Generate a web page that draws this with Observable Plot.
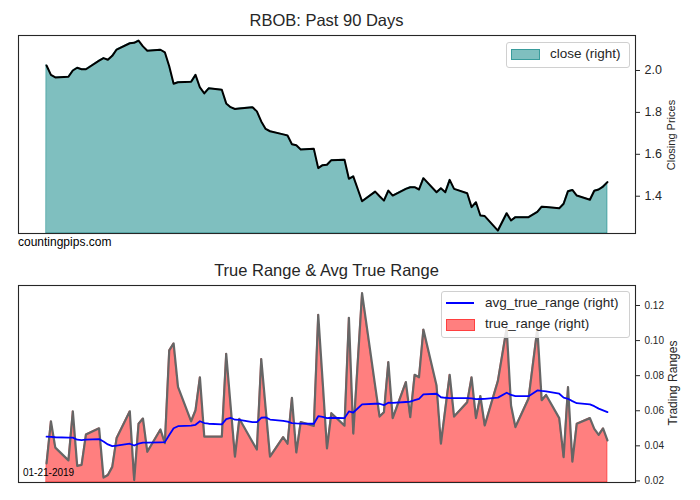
<!DOCTYPE html>
<html>
<head>
<meta charset="utf-8">
<script src="https://cdn.jsdelivr.net/npm/d3@7"></script>
<script src="https://cdn.jsdelivr.net/npm/@observablehq/plot@0.6"></script>
<style>
  body { margin: 0; background: #fff; }
  #wrap { position: relative; width: 700px; height: 500px; background: #fff;
          font-family: "Liberation Sans", Arial, sans-serif; color: #262626; overflow: hidden; }
  .abs { position: absolute; white-space: nowrap; }
  .title { left: 18px; width: 617px; text-align: center; font-size: 16.5px; line-height: 20px; }
  .ylab { transform: translate(-50%, -50%) rotate(-90deg); }
  .legend { border: 1px solid #d0d0d0; border-radius: 3px; background: rgba(255,255,255,0.85); }
</style>
</head>
<body>
<div id="wrap">
  <div id="topPanel" class="abs" style="left:0;top:0"></div>
  <div id="botPanel" class="abs" style="left:0;top:250px"></div>
</div>
<script>
// ---- data ----
const dates = [
  "2018-09-12","2018-09-13","2018-09-14",
  "2018-09-17","2018-09-18","2018-09-19","2018-09-20","2018-09-21",
  "2018-09-24","2018-09-25","2018-09-26","2018-09-27","2018-09-28",
  "2018-10-01","2018-10-02","2018-10-03","2018-10-04","2018-10-05",
  "2018-10-08","2018-10-09","2018-10-10","2018-10-11","2018-10-12",
  "2018-10-15","2018-10-16","2018-10-17","2018-10-18","2018-10-19",
  "2018-10-22","2018-10-23","2018-10-24","2018-10-25","2018-10-26",
  "2018-10-29","2018-10-30","2018-10-31","2018-11-01","2018-11-02",
  "2018-11-05","2018-11-06","2018-11-07","2018-11-08","2018-11-09",
  "2018-11-12","2018-11-13","2018-11-14","2018-11-15","2018-11-16",
  "2018-11-19","2018-11-20","2018-11-21","2018-11-23",
  "2018-11-26","2018-11-27","2018-11-28","2018-11-29","2018-11-30",
  "2018-12-03","2018-12-04","2018-12-05","2018-12-06","2018-12-07",
  "2018-12-10","2018-12-11","2018-12-12","2018-12-13","2018-12-14",
  "2018-12-17","2018-12-18","2018-12-19","2018-12-20","2018-12-21",
  "2018-12-24","2018-12-26","2018-12-27","2018-12-28",
  "2018-12-31","2019-01-02","2019-01-03","2019-01-04",
  "2019-01-07","2019-01-08","2019-01-09","2019-01-10","2019-01-11",
  "2019-01-14","2019-01-15","2019-01-16","2019-01-17","2019-01-18"
];
const close = [
  2.024, 1.979, 1.967,
  1.970, 2.000, 2.013, 2.006, 2.006,
  2.047, 2.059, 2.051, 2.070, 2.100,
  2.130, 2.132, 2.143, 2.115, 2.094,
  2.099, 2.087, 2.020, 1.937, 1.944,
  1.946, 1.979, 1.919, 1.891, 1.915,
  1.908, 1.843, 1.825, 1.816, 1.819,
  1.825, 1.805, 1.757, 1.721, 1.710,
  1.695, 1.690, 1.648, 1.643, 1.623,
  1.626, 1.534, 1.548, 1.550, 1.572,
  1.574, 1.483, 1.495, 1.376,
  1.422, 1.400, 1.379, 1.427, 1.403,
  1.435, 1.443, 1.443, 1.432, 1.486,
  1.419, 1.438, 1.419, 1.478, 1.435,
  1.414, 1.348, 1.371, 1.308, 1.305,
  1.236, 1.319, 1.284, 1.300,
  1.300, 1.325, 1.350, 1.348,
  1.342, 1.364, 1.424, 1.430, 1.403,
  1.383, 1.426, 1.432, 1.446, 1.467
];
const trueRange = [
  0.0300, 0.0540, 0.0390,
  0.0317, 0.0597, 0.0286, 0.0291, 0.0465,
  0.0500, 0.0219, 0.0234, 0.0280, 0.0445,
  0.0597, 0.0205, 0.0526, 0.0556, 0.0366,
  0.0493, 0.0415, 0.0944, 0.0984, 0.0736,
  0.0540, 0.0603, 0.0791, 0.0452, 0.0452,
  0.0452, 0.0925, 0.0630, 0.0338, 0.0554,
  0.0422, 0.0379, 0.0895, 0.0615, 0.0338,
  0.0450, 0.0412, 0.0673, 0.0362, 0.0535,
  0.0514, 0.1147, 0.0770, 0.0385, 0.0586,
  0.0515, 0.1130, 0.0470, 0.1270,
  0.0740, 0.0567, 0.0592, 0.0877, 0.0558,
  0.0763, 0.0564, 0.0805, 0.0791, 0.1063,
  0.0744, 0.0412, 0.0610, 0.0805, 0.0567,
  0.0649, 0.0791, 0.0558, 0.0684, 0.0516,
  0.0770, 0.1070, 0.0630, 0.0507,
  0.0670, 0.1067, 0.0660, 0.0690,
  0.0558, 0.0336, 0.0735, 0.0310, 0.0526,
  0.0558, 0.0497, 0.0463, 0.0500, 0.0431
];
const avgTrueRange = [
  0.0452, 0.0451, 0.0449,
  0.0447, 0.0447, 0.0435, 0.0433, 0.0435,
  0.0438, 0.0425, 0.0408, 0.0398, 0.0401,
  0.0412, 0.0402, 0.0413, 0.0418, 0.0418,
  0.0420, 0.0421, 0.0462, 0.0500, 0.0512,
  0.0515, 0.0520, 0.0540, 0.0530, 0.0526,
  0.0522, 0.0552, 0.0560, 0.0549, 0.0548,
  0.0535, 0.0535, 0.0560, 0.0562, 0.0550,
  0.0542, 0.0538, 0.0530, 0.0528, 0.0527,
  0.0526, 0.0569, 0.0565, 0.0558, 0.0560,
  0.0558, 0.0596, 0.0590, 0.0636,
  0.0640, 0.0640, 0.0632, 0.0646, 0.0645,
  0.0650, 0.0652, 0.0660, 0.0668, 0.0693,
  0.0697, 0.0677, 0.0674, 0.0672, 0.0672,
  0.0672, 0.0670, 0.0666, 0.0667, 0.0668,
  0.0675, 0.0703, 0.0690, 0.0683,
  0.0683, 0.0716, 0.0713, 0.0711,
  0.0697, 0.0675, 0.0668, 0.0655, 0.0643,
  0.0636, 0.0626, 0.0612, 0.0602, 0.0592
];
const closeTicks = [1.4, 1.6, 1.8, 2.0];
const rangeTicks = [0.02, 0.04, 0.06, 0.08, 0.10, 0.12];

// ---- build ----
const rows = dates.map((d, i) => ({
  date: new Date(d + "T00:00:00Z"),
  close: close[i], tr: trueRange[i], atr: avgTrueRange[i]
}));
const t0 = rows[0].date, t1 = rows[rows.length - 1].date;
const pad = (t1 - t0) * 0.05;
const xDomain = [new Date(+t0 - pad), new Date(+t1 + pad)];
const closeDomain = [1.222, 2.167];
const rangeDomain = [0.0191, 0.1314];
const font = '"Liberation Sans", Arial, sans-serif';

const topChart = Plot.plot({
  width: 700, height: 250,
  marginLeft: 18, marginRight: 65, marginTop: 35, marginBottom: 17,
  style: {fontFamily: font, fontSize: "12.5px", color: "#262626", background: "transparent"},
  x: {type: "utc", domain: xDomain, axis: null},
  y: {domain: closeDomain},
  marks: [
    Plot.areaY(rows, {x: "date", y1: closeDomain[0], y2: "close", fill: "teal", fillOpacity: 0.5,
      stroke: "teal", strokeOpacity: 0.55, strokeWidth: 1, clip: true}),
    Plot.lineY(rows, {x: "date", y: "close", stroke: "black", strokeWidth: 2, clip: true}),
    Plot.frame({stroke: "#262626", strokeWidth: 1.1}),
    Plot.axisY({anchor: "right", ticks: closeTicks, tickFormat: d3.format(".1f"),
      tickSize: 4, tickPadding: 5, label: null, stroke: "#262626"})
  ]
});
document.getElementById("topPanel").appendChild(topChart);

const botChart = Plot.plot({
  width: 700, height: 250,
  marginLeft: 18, marginRight: 65, marginTop: 35, marginBottom: 18,
  style: {fontFamily: font, fontSize: "10px", color: "#262626", background: "transparent"},
  x: {type: "utc", domain: xDomain, axis: null},
  y: {domain: rangeDomain},
  marks: [
    Plot.areaY(rows, {x: "date", y1: rangeDomain[0], y2: "tr", fill: "red", fillOpacity: 0.5,
      stroke: "red", strokeOpacity: 0.5, strokeWidth: 1, clip: true}),
    Plot.lineY(rows, {x: "date", y: "tr", stroke: "#666666", strokeWidth: 2.2, clip: true}),
    Plot.lineY(rows, {x: "date", y: "atr", stroke: "blue", strokeWidth: 1.8, clip: true}),
    Plot.frame({stroke: "#262626", strokeWidth: 1.1}),
    Plot.axisY({anchor: "right", ticks: rangeTicks, tickFormat: d3.format(".2f"),
      tickSize: 4, tickPadding: 5, label: null, stroke: "#262626"})
  ]
});
document.getElementById("botPanel").appendChild(botChart);

// ---- text overlays ----
const wrap = document.getElementById("wrap");
function add(html, style, cls) {
  const el = document.createElement("div");
  el.className = "abs " + (cls || "");
  el.setAttribute("style", style);
  el.innerHTML = html;
  wrap.appendChild(el);
  return el;
}
add("RBOB: Past 90 Days", "top:10px;", "title");
add("True Range &amp; Avg True Range", "top:260px;", "title");
add("countingpips.com", "left:18px;top:235px;font-size:12px;color:#000;");
add("01-21-2019", "left:23px;top:467px;font-size:10px;color:#000;");
add("Closing Prices", "left:671px;top:135px;font-size:11px;", "ylab");
add("Trading Ranges", "left:673px;top:383px;font-size:12px;", "ylab");

// legends
add("", "left:506px;top:42px;width:122px;height:24px;", "legend");
add("", "left:511px;top:49px;width:27px;height:9px;background:rgba(0,128,128,0.5);border:1px solid rgba(0,128,128,0.55);");
add("close (right)", "left:550px;top:46px;font-size:13.5px;line-height:16px;");

add("", "left:441px;top:291px;width:187px;height:45px;", "legend");
add("", "left:446px;top:302px;width:28px;height:2px;background:blue;");
add("avg_true_range (right)", "left:485px;top:295px;font-size:13.5px;line-height:16px;");
add("", "left:446px;top:319px;width:27px;height:10px;background:rgba(255,0,0,0.5);border:1px solid rgba(255,0,0,0.5);");
add("true_range (right)", "left:485px;top:316px;font-size:13.5px;line-height:16px;");
</script>
</body>
</html>
